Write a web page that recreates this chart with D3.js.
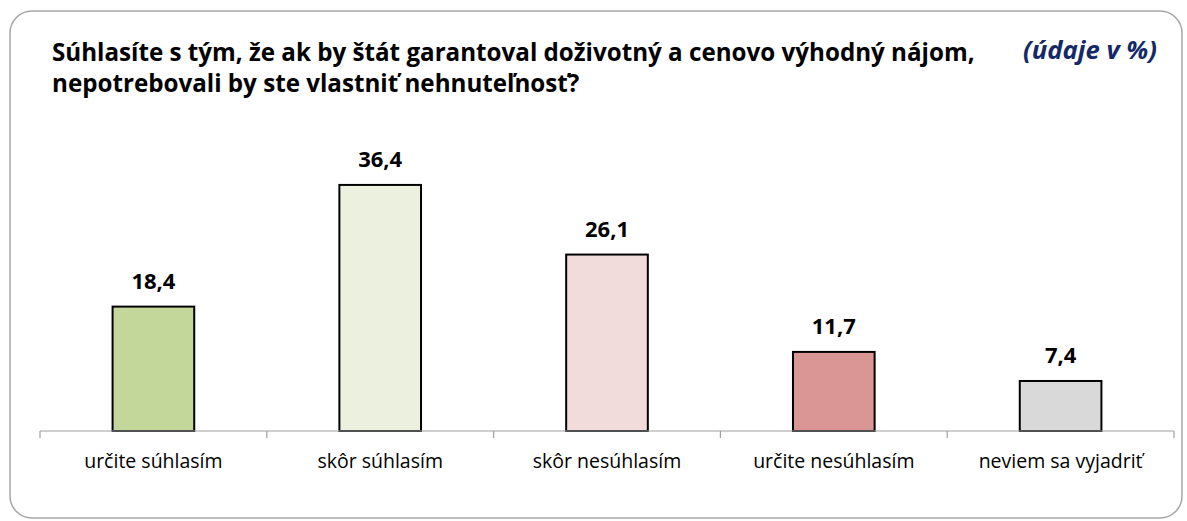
<!DOCTYPE html>
<html><head><meta charset="utf-8">
<script src="https://cdn.jsdelivr.net/npm/d3@7"></script>
<style>body{margin:0;background:#fff}svg{display:block}</style>
</head><body>
<svg id="chart" width="1187" height="521"></svg>
<script>
const categories = ["určite súhlasím","skôr súhlasím","skôr nesúhlasím","určite nesúhlasím","neviem sa vyjadriť"];
const values = [18.4, 36.4, 26.1, 11.7, 7.4];
const colors = ["#c4d79b","#ebf1de","#f2dcdb","#da9694","#d9d9d9"];
const titleLines = ["Súhlasíte s tým, že ak by štát garantoval doživotný a cenovo výhodný nájom,","nepotrebovali by ste vlastniť nehnuteľnosť?"];
const unitNote = "(údaje v %)";

const svg = d3.select("#chart");
const font = "'Open Sans', sans-serif";

svg.append("rect").attr("x",10).attr("y",11).attr("width",1172).attr("height",507)
  .attr("rx",22).attr("fill","#fff").attr("stroke","#a6a6a6").attr("stroke-width",1.5);

const title = svg.append("text").attr("x",52).attr("y",61).attr("font-family",font).attr("font-weight","bold")
  .attr("font-size",20).attr("fill","#000");
title.selectAll("tspan").data(titleLines).join("tspan")
  .attr("x",52).attr("dy",(d,i)=>i?31:0).text(d=>d);
const w0 = title.select("tspan").node().getComputedTextLength();
if (w0) title.attr("font-size", 20*923/w0);

const note = svg.append("text").attr("x",1157).attr("y",59).attr("text-anchor","end")
  .attr("font-family",font).attr("font-weight","bold").attr("font-style","italic")
  .attr("font-size",20).attr("fill","#13296a").text(unitNote);
const wn = note.node().getComputedTextLength();
if (wn) note.attr("font-size", 20*134/wn);

const x = d3.scaleBand().domain(categories).range([40,1174]).paddingInner(0.64).paddingOuter(0.32);
const y = d3.scaleLinear().domain([0,40]).range([431, 431-6.76*40]);

svg.append("g").selectAll("rect").data(values).join("rect")
  .attr("x",(d,i)=>x(categories[i])).attr("width",x.bandwidth())
  .attr("y",d=>y(d)).attr("height",d=>y(0)-y(d))
  .attr("fill",(d,i)=>colors[i]).attr("stroke","#000").attr("stroke-width",2);

svg.append("g").selectAll("text").data(values).join("text")
  .attr("x",(d,i)=>x(categories[i])+x.bandwidth()/2).attr("y",d=>y(d)-18)
  .attr("text-anchor","middle").attr("font-family",font).attr("font-weight","bold")
  .attr("font-size",22).attr("fill","#000").text(d=>d.toFixed(1).replace(".",","));

const axisG = svg.append("g").attr("transform","translate(0,431)");
axisG.append("line").attr("x1",40).attr("x2",1174).attr("stroke","#a0a0a0").attr("stroke-width",1.2);
const bounds = d3.range(categories.length+1).map(i=>40+i*(1134/categories.length));
axisG.selectAll("line.tick").data(bounds).join("line").attr("class","tick")
  .attr("x1",d=>d).attr("x2",d=>d).attr("y1",0).attr("y2",7).attr("stroke","#a0a0a0").attr("stroke-width",1.2);
axisG.selectAll("text").data(categories).join("text")
  .attr("x",d=>x(d)+x.bandwidth()/2).attr("y",37).attr("text-anchor","middle")
  .attr("font-family",font).attr("font-size",19.5).attr("fill","#000").text(d=>d);
</script>
</body></html>
